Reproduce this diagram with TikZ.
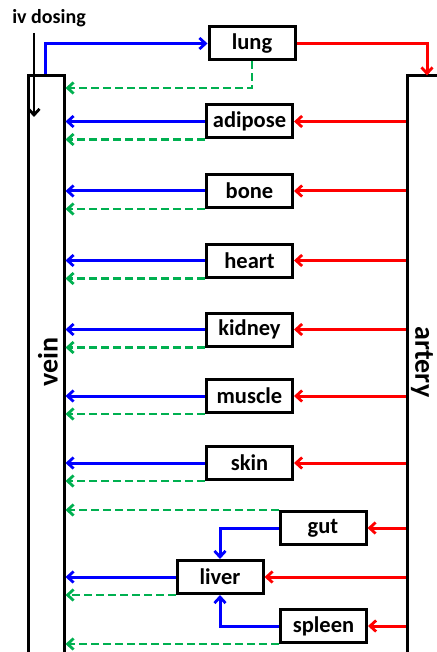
\documentclass[tikz,border=0pt]{standalone}
\usepackage{fontspec}
\setmainfont{Carlito}
\usetikzlibrary{arrows.meta}
\definecolor{flowblue}{RGB}{0,0,255}
\definecolor{flowred}{RGB}{255,0,0}
\definecolor{flowgreen}{RGB}{0,176,80}
\begin{document}
\begin{tikzpicture}[x=1pt,y=-1pt,
  organ/.style={draw,line width=3pt,minimum width=86pt,minimum height=33pt,inner sep=0pt,
    font=\fontsize{22.5}{25}\selectfont\bfseries},
  vessel/.style={draw,line width=3pt,inner sep=0pt},
  vlabel/.style={font=\fontsize{28}{30}\selectfont\bfseries,inner sep=0pt},
  tip/.style={-{Straight Barb[length=6pt,width=11pt,line width=2.8pt]}},
  blueflow/.style={tip,draw=flowblue,line width=3pt},
  redflow/.style={tip,draw=flowred,line width=3pt},
  greenflow/.style={tip,draw=flowgreen,line width=2.8pt,dash pattern=on 8pt off 4pt},
  ivflow/.style={tip,draw=black,line width=2.8pt}]
\useasboundingbox (0,0) rectangle (436,652);
% vessels
\node[vessel,minimum width=36pt,minimum height=644pt] (vein) at (46,397.5) {};
\node[vessel,minimum width=63pt,minimum height=644pt] (artery) at (438.5,397.5) {};
\node[vlabel,rotate=90] (veinlbl) at (48,362) {vein};
\node[vlabel,rotate=-90] (arterylbl) at (422,362) {artery};
% organs
\node[organ] (lung) at (252,43.5) {lung};
\node[organ] (adipose) at (249.5,121.5) {adipose};
\node[organ] (bone) at (249.5,191) {bone};
\node[organ] (heart) at (249.5,260.5) {heart};
\node[organ] (kidney) at (249.5,329.5) {kidney};
\node[organ] (muscle) at (249.5,396) {muscle};
\node[organ] (skin) at (249.5,463) {skin};
\node[organ] (gut) at (323,528) {gut};
\node[organ] (liver) at (220,577) {liver};
\node[organ] (spleen) at (323.5,626) {spleen};
% iv dosing
\node[font=\fontsize{20}{22}\selectfont\bfseries,inner sep=0pt] (iv) at (49,18) {iv dosing};
\coordinate (ivend) at (34,117);
\draw[ivflow] (ivend |- 0,33) -- (ivend);
% lung loop
\draw[blueflow] ([xshift=-1pt]vein.north) |- (lung.west);
\coordinate (atop) at (427,75.5);
\draw[redflow] (lung.east) -| (atop);
\coordinate (lg) at (252,88);
\draw[greenflow] (lung.south) |- (vein.east |- lg);
% parallel organs
\foreach \o in {adipose,bone,heart,kidney,muscle,skin,liver}{
  \draw[blueflow] (\o.west) -- (\o.west -| vein.east);
  \draw[greenflow] (\o.south west) -- (\o.south west -| vein.east);
}
\foreach \o in {adipose,bone,heart,kidney,muscle,skin,gut,liver,spleen}{
  \draw[redflow] (\o.east -| artery.west) -- (\o.east);
}
% splanchnic
\draw[greenflow] (gut.north west) -- (gut.north west -| vein.east);
\draw[blueflow] (gut.west) -| (liver.north);
\draw[blueflow] (spleen.west) -| (liver.south);
\draw[greenflow] (spleen.south west) -- (spleen.south west -| vein.east);
\end{tikzpicture}
\end{document}
